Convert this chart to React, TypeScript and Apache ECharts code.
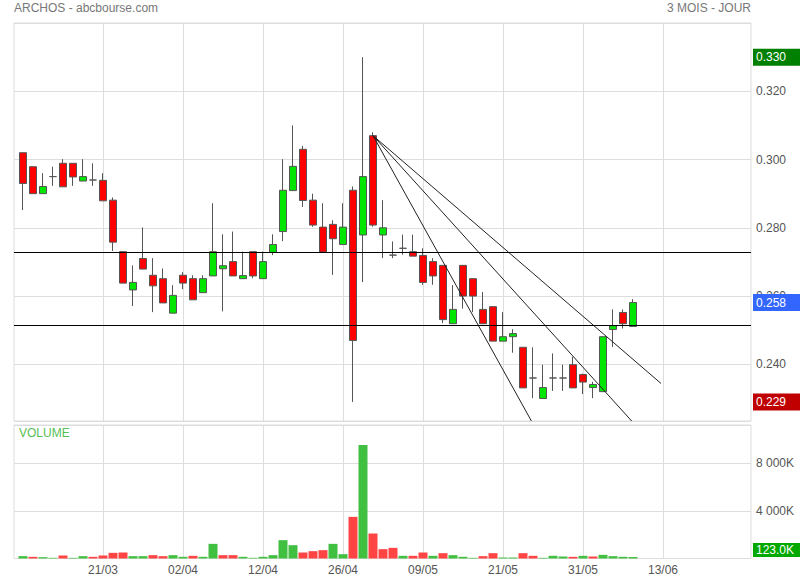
import React, { useEffect, useRef } from 'react';
import * as echarts from 'echarts';

const dates = [
  '11/03', '12/03', '13/03', '14/03', '15/03', '18/03', '19/03', '20/03',
  '21/03', '22/03', '25/03', '26/03', '27/03', '28/03', '29/03', '01/04',
  '02/04', '03/04', '04/04', '05/04', '08/04', '09/04', '10/04', '11/04',
  '12/04', '15/04', '16/04', '17/04', '18/04', '19/04', '22/04', '24/04',
  '26/04', '29/04', '30/04', '02/05', '03/05', '06/05', '07/05', '08/05',
  '09/05', '10/05', '13/05', '14/05', '15/05', '16/05', '17/05', '20/05',
  '21/05', '22/05', '23/05', '24/05', '27/05', '28/05', '29/05', '30/05',
  '31/05', '03/06', '04/06', '05/06', '06/06', '07/06', '10/06', '11/06',
  '13/06', '14/06', '17/06', '18/06', '19/06', '20/06', '21/06', '24/06', '25/06',
];

const opens = [
  0.302, 0.2979, 0.29, 0.295, 0.2989, 0.2989, 0.2937, 0.294, 0.2939, 0.2881,
  0.273, 0.2618, 0.271, 0.2661, 0.2651, 0.255, 0.2661, 0.2651, 0.261, 0.2659,
  0.268, 0.2701, 0.2651, 0.273, 0.2651, 0.2728, 0.2789, 0.2909, 0.303, 0.2881,
  0.2802, 0.281, 0.2751, 0.291, 0.2779, 0.307, 0.2779, 0.272, 0.274, 0.273,
  0.2719, 0.2701, 0.269, 0.2519, 0.269, 0.2651, 0.2561, 0.2569, 0.2468, 0.2481,
  0.245, 0.236, 0.23, 0.236, 0.236, 0.2399, 0.237, 0.2332, 0.232, 0.2502,
  0.2552, 0.2511,
];
const closes = [
  0.293, 0.29, 0.2921, 0.295, 0.292, 0.2949, 0.295, 0.294, 0.2879, 0.2758,
  0.2638, 0.264, 0.2679, 0.263, 0.258, 0.2602, 0.2638, 0.2589, 0.2651, 0.273,
  0.2689, 0.2659, 0.266, 0.2659, 0.2701, 0.2751, 0.291, 0.298, 0.288, 0.2808,
  0.2729, 0.2768, 0.2802, 0.247, 0.295, 0.2808, 0.28, 0.272, 0.274, 0.2717,
  0.264, 0.2659, 0.2531, 0.2561, 0.26, 0.26, 0.2519, 0.2468, 0.2481, 0.249,
  0.2331, 0.236, 0.2332, 0.236, 0.236, 0.2331, 0.2348, 0.2341, 0.2481, 0.2513,
  0.2519, 0.2581,
];
const lows = [
  0.2852, 0.29, 0.29, 0.2923, 0.292, 0.2923, 0.2937, 0.2923, 0.2879, 0.2732,
  0.2638, 0.2571, 0.2679, 0.2553, 0.258, 0.255, 0.262, 0.2589, 0.261, 0.2659,
  0.2555, 0.2659, 0.2651, 0.2652, 0.2651, 0.272, 0.2761, 0.2909, 0.2861, 0.2803,
  0.2729, 0.2662, 0.2751, 0.229, 0.2641, 0.2803, 0.2711, 0.2711, 0.2721, 0.2717,
  0.2633, 0.2633, 0.2521, 0.2519, 0.2563, 0.2553, 0.2519, 0.2468, 0.2468, 0.2434,
  0.2331, 0.2301, 0.23, 0.2322, 0.2322, 0.2331, 0.2313, 0.2301, 0.232, 0.2451,
  0.2505, 0.2511,
];
const highs = [
  0.302, 0.2979, 0.296, 0.2979, 0.3001, 0.2989, 0.3001, 0.2989, 0.296, 0.2889,
  0.273, 0.269, 0.2801, 0.2711, 0.2681, 0.2632, 0.267, 0.2661, 0.2661, 0.2872,
  0.2781, 0.2789, 0.273, 0.273, 0.273, 0.2781, 0.3001, 0.31, 0.304, 0.29,
  0.2872, 0.2822, 0.2872, 0.2921, 0.33, 0.308, 0.2881, 0.276, 0.278, 0.278,
  0.274, 0.2711, 0.269, 0.2632, 0.269, 0.2651, 0.2612, 0.2569, 0.2553, 0.2503,
  0.245, 0.245, 0.2399, 0.2432, 0.2399, 0.2422, 0.2373, 0.2349, 0.2481, 0.2561,
  0.2561, 0.2591,
];

// volumes in thousands of shares
const volumes = [
  200, 140, 112, 56, 252, 56, 196, 140, 252, 475,
  503, 196, 196, 280, 196, 280, 140, 224, 140, 1230,
  280, 280, 140, 56, 140, 280, 1537, 1118, 503, 615,
  699, 1230, 363, 3494, 9531, 2096, 783, 894, 224, 224,
  503, 224, 447, 280, 140, 56, 196, 447, 84, 84,
  447, 224, 56, 224, 168, 140, 224, 168, 307, 196,
  140, 123,
];
const volumeUp = [
  1, 0, 1, 1, 0, 1, 1, 0, 0, 0,
  0, 1, 1, 0, 0, 1, 1, 0, 1, 1,
  0, 0, 1, 1, 1, 1, 1, 1, 0, 0,
  0, 1, 1, 0, 1, 0, 0, 0, 1, 0,
  0, 1, 0, 1, 1, 1, 0, 0, 1, 1,
  0, 0, 1, 1, 1, 0, 1, 0, 1, 1,
  1, 1,
];

const supportLevels = [0.2727, 0.2514];
const trendStart = [35, 0.307];
const trendEnds = [
  [50.84, 0.2234],
  [60.87, 0.2234],
  [63.8, 0.2344],
];

const priceMin = 0.2234;
const priceMax = 0.34;
const volMax = 11200;
const volInterval = 4000;
const labelEvery = 8;

const FONT = "'Liberation Sans', Arial, Helvetica, sans-serif";

function fmtK(v: number) {
  return String(Math.round(v)).replace(/\B(?=(\d{3})+(?!\d))/g, ' ') + 'K';
}

export default function App() {
  const ref = useRef<HTMLDivElement>(null);

  useEffect(() => {
    if (!ref.current) return;
    const chart = echarts.init(ref.current, undefined, { renderer: 'svg' });

    const candleData = opens.map((o, i) => [o, closes[i], lows[i], highs[i]]);
    const periodHigh = Math.max(...highs);
    const periodLow = Math.min(...lows);
    const lastPrice = closes[closes.length - 1];
    const lastVolume = volumes[volumes.length - 1];
    const gridInterval = (idx: number) => idx % labelEvery === 0 && idx > 0 && idx < dates.length - 1;

    const hidden = { color: 'rgba(0,0,0,0)', width: 1, type: 'solid' };

    const priceBox = (value: number, bg: string) => ({
      yAxis: value,
      lineStyle: hidden,
      label: {
        show: true,
        position: 'end',
        distance: 2,
        opacity: 1,
        formatter: value.toFixed(3),
        backgroundColor: bg,
        color: '#fff',
        fontSize: 12,
        fontFamily: FONT,
        padding: [3, 30, 2, 3],
      },
    });

    const option: any = {
      animation: false,
      backgroundColor: '#fff',
      textStyle: { fontFamily: FONT },
      grid: [
        { left: 14, top: 23, width: 737, height: 398, show: true, borderColor: '#ddd', borderWidth: 1, backgroundColor: '#fff', outerBoundsMode: 'none' },
        { left: 18, top: 23, width: 730, height: 398, show: false, outerBoundsMode: 'none' },
        { left: 14, top: 425, width: 737, height: 133.5, show: true, borderColor: '#ddd', borderWidth: 1, backgroundColor: '#fff', outerBoundsMode: 'none' },
        { left: 18, top: 425, width: 730, height: 133.5, show: false, outerBoundsMode: 'none' },
      ],
      xAxis: [
        { gridIndex: 0, type: 'value', min: -0.9, max: 72.8, show: false },
        {
          gridIndex: 1, type: 'category', data: dates,
          axisLine: { show: false }, axisTick: { show: false }, axisLabel: { show: false },
          splitLine: { show: true, interval: gridInterval, alignWithLabel: true, lineStyle: { color: '#ddd', width: 1 } },
        },
        { gridIndex: 2, type: 'value', min: 0, max: 1, show: false },
        {
          gridIndex: 3, type: 'category', data: dates,
          axisLine: { show: false }, axisTick: { show: false },
          axisLabel: { interval: gridInterval, color: '#555', fontSize: 12, margin: 5, fontFamily: FONT },
          splitLine: { show: true, interval: gridInterval, alignWithLabel: true, lineStyle: { color: '#ddd', width: 1 } },
        },
      ],
      yAxis: [
        {
          gridIndex: 0, type: 'value', min: priceMin, max: priceMax, splitNumber: 6, position: 'right',
          axisLine: { show: false }, axisTick: { show: false },
          axisLabel: { color: '#555', fontSize: 12, margin: 5, fontFamily: FONT, showMinLabel: false, showMaxLabel: false, formatter: (v: number) => v.toFixed(3) },
          splitLine: { show: true, lineStyle: { color: '#ddd', width: 1 } },
        },
        { gridIndex: 1, type: 'value', min: priceMin, max: priceMax, show: false },
        {
          gridIndex: 2, type: 'value', min: 0, max: volMax, interval: volInterval, position: 'right',
          axisLine: { show: false }, axisTick: { show: false },
          axisLabel: { color: '#555', fontSize: 12, margin: 5, fontFamily: FONT, showMinLabel: false, showMaxLabel: false, formatter: fmtK },
          splitLine: { show: true, lineStyle: { color: '#ddd', width: 1 } },
        },
        { gridIndex: 3, type: 'value', min: 0, max: volMax, show: false },
      ],
      series: [
        {
          type: 'candlestick', xAxisIndex: 1, yAxisIndex: 1, data: candleData, barWidth: 7,
          itemStyle: { color: '#00e600', color0: '#ff0000', borderColor: '#555', borderColor0: '#555', borderWidth: 1 },
          emphasis: { disabled: true },
        },
        ...trendEnds.map((end, k) => ({
          type: 'line', xAxisIndex: 0, yAxisIndex: 0, data: [trendStart, end], symbol: 'none',
          lineStyle: { color: '#222', width: 1 }, silent: true, z: 3, clip: false,
          markLine: k === 0 ? {
            silent: true, symbol: ['none', 'none'], animation: false, precision: 4,
            lineStyle: { type: 'solid', color: '#000', width: 1 },
            label: { show: false },
            data: [
              ...supportLevels.map((lv) => ({ yAxis: lv, lineStyle: { type: 'solid', color: '#000', width: 1 }, label: { show: false } })),
              priceBox(periodHigh, '#008000'),
              priceBox(lastPrice, '#3366ff'),
              priceBox(periodLow, '#c00000'),
            ],
          } : undefined,
        })),
        {
          type: 'bar', xAxisIndex: 3, yAxisIndex: 3, barWidth: 9, clip: false,
          data: volumes.map((v, i) => ({ value: v, itemStyle: { color: volumeUp[i] ? '#40bf40' : '#ff4444' } })),
          emphasis: { disabled: true },
          markLine: {
            silent: true, symbol: ['none', 'none'], animation: false, precision: 1,
            data: [{
              yAxis: lastVolume,
              lineStyle: hidden,
              label: {
                show: true, position: 'end', distance: 5, verticalAlign: 'bottom', opacity: 1,
                formatter: lastVolume.toFixed(1) + 'K',
                backgroundColor: '#00a800', color: '#fff', fontSize: 12, fontFamily: FONT,
                padding: [1, 30, 1, 3],
              },
            }],
          },
        },
      ],
      graphic: [
        { type: 'text', left: 14, top: 2, style: { text: 'ARCHOS - abcbourse.com', fill: '#777', font: `12px ${FONT}` } },
        { type: 'text', right: 49, top: 2, style: { text: '3 MOIS - JOUR', fill: '#777', font: `12px ${FONT}` } },
        { type: 'text', left: 19, top: 427, z: 10, style: { text: 'VOLUME', fill: '#55c055', font: `12px ${FONT}` } },
      ],
    };

    chart.setOption(option);
    return () => chart.dispose();
  }, []);

  return (
    <div
      ref={ref}
      style={{ position: 'fixed', left: 0, top: 0, width: 800, height: 580, background: '#fff' }}
    />
  );
}
